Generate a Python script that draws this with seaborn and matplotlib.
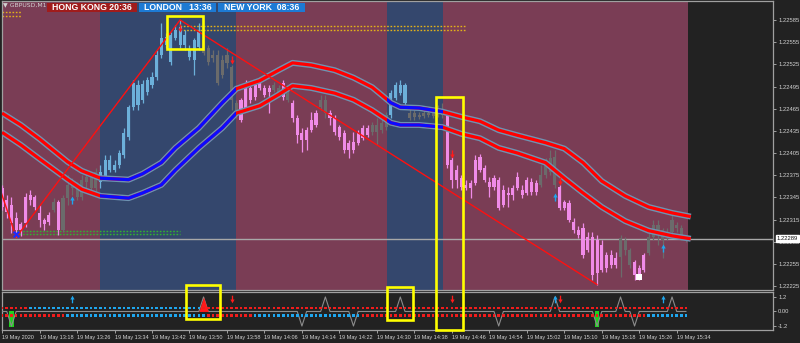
import numpy as np
import pandas as pd
import matplotlib
matplotlib.use("Agg")
import matplotlib.pyplot as plt
from matplotlib.patches import Rectangle
from matplotlib.path import Path
import seaborn as sns

# ---------------- data ----------------
opens = [1.22358, 1.22341, 1.22335, 1.22317, 1.22301, 1.22310, 1.22341, 1.22346, 1.22324, 1.22314,
         1.22312, 1.22328, 1.22339, 1.22301, 1.22344, 1.22358, 1.22362, 1.22346, 1.22366, 1.22373,
         1.22358, 1.22366, 1.22371, 1.22396, 1.22382, 1.22389, 1.22402, 1.22427, 1.22467, 1.22497,
         1.22477, 1.22488, 1.22497, 1.22508, 1.22538, 1.22551, 1.22565, 1.22561, 1.22551, 1.22565,
         1.22544, 1.22531, 1.22548, 1.22558, 1.22547, 1.22538, 1.22538, 1.22511, 1.22538, 1.22521,
         1.22473, 1.22477, 1.22463, 1.22493, 1.22497, 1.22493, 1.22493, 1.22493, 1.22490, 1.22488,
         1.22500, 1.22486, 1.22473, 1.22452, 1.22432, 1.22423, 1.22436, 1.22443, 1.22467, 1.22477,
         1.22459, 1.22452, 1.22440, 1.22432, 1.22419, 1.22409, 1.22419, 1.22425, 1.22429, 1.22433,
         1.22443, 1.22436, 1.22440, 1.22456, 1.22480, 1.22486, 1.22497, 1.22459, 1.22454, 1.22456,
         1.22459, 1.22456, 1.22459, 1.22456, 1.22463, 1.22456, 1.22396, 1.22369, 1.22371, 1.22362,
         1.22358, 1.22365, 1.22382, 1.22385, 1.22366, 1.22359, 1.22369, 1.22335, 1.22351, 1.22348,
         1.22358, 1.22355, 1.22351, 1.22366, 1.22352, 1.22362, 1.22375, 1.22379, 1.22400, 1.22359,
         1.22331, 1.22337, 1.22312, 1.22301, 1.22304, 1.22274, 1.22291, 1.22243, 1.22281, 1.22250,
         1.22267, 1.22254, 1.22264, 1.22287, 1.22274, 1.22258, 1.22240, 1.22247, 1.22270, 1.22291,
         1.22308, 1.22301, 1.22291, 1.22298, 1.22308, 1.22304, 1.22290]
closes = [1.22332, 1.22325, 1.22310, 1.22301, 1.22309, 1.22346, 1.22348, 1.22332, 1.22314, 1.22309,
          1.22321, 1.22339, 1.22301, 1.22344, 1.22362, 1.22365, 1.22346, 1.22369, 1.22373, 1.22358,
          1.22379, 1.22379, 1.22396, 1.22382, 1.22389, 1.22405, 1.22432, 1.22467, 1.22500, 1.22470,
          1.22498, 1.22504, 1.22508, 1.22538, 1.22561, 1.22562, 1.22528, 1.22571, 1.22575, 1.22551,
          1.22535, 1.22558, 1.22569, 1.22540, 1.22528, 1.22534, 1.22500, 1.22531, 1.22527, 1.22477,
          1.22463, 1.22450, 1.22500, 1.22477, 1.22481, 1.22501, 1.22484, 1.22488, 1.22497, 1.22493,
          1.22481, 1.22477, 1.22452, 1.22429, 1.22423, 1.22436, 1.22450, 1.22459, 1.22477, 1.22459,
          1.22452, 1.22434, 1.22427, 1.22409, 1.22409, 1.22420, 1.22432, 1.22439, 1.22439, 1.22443,
          1.22433, 1.22446, 1.22456, 1.22486, 1.22497, 1.22497, 1.22473, 1.22452, 1.22459, 1.22454,
          1.22455, 1.22459, 1.22455, 1.22461, 1.22456, 1.22389, 1.22369, 1.22382, 1.22359, 1.22358,
          1.22365, 1.22396, 1.22400, 1.22369, 1.22359, 1.22371, 1.22331, 1.22355, 1.22348, 1.22358,
          1.22373, 1.22348, 1.22369, 1.22352, 1.22365, 1.22375, 1.22392, 1.22398, 1.22362, 1.22331,
          1.22339, 1.22314, 1.22301, 1.22294, 1.22267, 1.22291, 1.22240, 1.22287, 1.22247, 1.22267,
          1.22254, 1.22263, 1.22290, 1.22274, 1.22254, 1.22240, 1.22250, 1.22267, 1.22291, 1.22308,
          1.22301, 1.22287, 1.22298, 1.22314, 1.22304, 1.22290, 1.22287]
highs = [1.22362, 1.22348, 1.22345, 1.22325, 1.22312, 1.22351, 1.22355, 1.22348, 1.22335, 1.22317,
         1.22325, 1.22344, 1.22341, 1.22348, 1.22375, 1.22371, 1.22366, 1.22375, 1.22379, 1.22378,
         1.22385, 1.22389, 1.22402, 1.22402, 1.22396, 1.22409, 1.22439, 1.22470, 1.22504, 1.22504,
         1.22504, 1.22508, 1.22515, 1.22544, 1.22581, 1.22567, 1.22569, 1.22578, 1.22585, 1.22571,
         1.22551, 1.22561, 1.22581, 1.22565, 1.22551, 1.22544, 1.22544, 1.22538, 1.22547, 1.22524,
         1.22477, 1.22479, 1.22504, 1.22497, 1.22500, 1.22508, 1.22497, 1.22497, 1.22501, 1.22497,
         1.22504, 1.22493, 1.22477, 1.22457, 1.22439, 1.22440, 1.22461, 1.22463, 1.22484, 1.22484,
         1.22463, 1.22457, 1.22443, 1.22436, 1.22423, 1.22433, 1.22436, 1.22443, 1.22443, 1.22447,
         1.22452, 1.22452, 1.22461, 1.22490, 1.22501, 1.22504, 1.22500, 1.22466, 1.22463, 1.22461,
         1.22463, 1.22463, 1.22463, 1.22470, 1.22473, 1.22461, 1.22400, 1.22389, 1.22375, 1.22369,
         1.22369, 1.22402, 1.22404, 1.22389, 1.22373, 1.22375, 1.22373, 1.22362, 1.22359, 1.22362,
         1.22379, 1.22362, 1.22373, 1.22371, 1.22369, 1.22389, 1.22398, 1.22409, 1.22409, 1.22362,
         1.22341, 1.22341, 1.22317, 1.22306, 1.22310, 1.22298, 1.22298, 1.22294, 1.22287, 1.22271,
         1.22274, 1.22271, 1.22294, 1.22291, 1.22277, 1.22260, 1.22254, 1.22270, 1.22297, 1.22314,
         1.22314, 1.22304, 1.22304, 1.22321, 1.22312, 1.22308, 1.22293]
lows = [1.22328, 1.22317, 1.22297, 1.22291, 1.22293, 1.22305, 1.22335, 1.22328, 1.22305, 1.22301,
        1.22308, 1.22325, 1.22294, 1.22298, 1.22335, 1.22348, 1.22341, 1.22341, 1.22355, 1.22352,
        1.22352, 1.22358, 1.22369, 1.22379, 1.22379, 1.22385, 1.22398, 1.22423, 1.22463, 1.22463,
        1.22473, 1.22484, 1.22493, 1.22504, 1.22534, 1.22547, 1.22524, 1.22558, 1.22547, 1.22544,
        1.22531, 1.22511, 1.22544, 1.22538, 1.22524, 1.22528, 1.22497, 1.22507, 1.22520, 1.22463,
        1.22452, 1.22447, 1.22460, 1.22473, 1.22477, 1.22490, 1.22481, 1.22459, 1.22488, 1.22484,
        1.22477, 1.22474, 1.22447, 1.22419, 1.22406, 1.22409, 1.22434, 1.22440, 1.22463, 1.22452,
        1.22443, 1.22429, 1.22423, 1.22405, 1.22398, 1.22405, 1.22416, 1.22423, 1.22427, 1.22429,
        1.22416, 1.22432, 1.22436, 1.22452, 1.22477, 1.22484, 1.22466, 1.22450, 1.22450, 1.22451,
        1.22452, 1.22454, 1.22452, 1.22454, 1.22452, 1.22385, 1.22358, 1.22358, 1.22355, 1.22355,
        1.22344, 1.22362, 1.22379, 1.22366, 1.22346, 1.22355, 1.22328, 1.22332, 1.22332, 1.22341,
        1.22355, 1.22344, 1.22348, 1.22348, 1.22348, 1.22359, 1.22371, 1.22375, 1.22358, 1.22328,
        1.22328, 1.22312, 1.22297, 1.22290, 1.22263, 1.22271, 1.22233, 1.22227, 1.22244, 1.22244,
        1.22250, 1.22250, 1.22237, 1.22267, 1.22250, 1.22233, 1.22233, 1.22244, 1.22267, 1.22287,
        1.22281, 1.22263, 1.22287, 1.22294, 1.22298, 1.22287, 1.22285]
# candle trend state: p = down (pink), b = up (light blue), g = neutral (gray)
trend = ("ppppppppppp" "g" "p" "gggggggg" "bbbbbbbbbbbbbbbbbbbbbb" "gggggggg" "ppppppp" "gg" "p" "g"
         "pppppp" "gg" "ppppppppp" "gggg" "bbbb" "gggggggg" "pppppppppppppppppppp" "gggg"
         "ppppppppppppp" "ggg" "ppp" "ggggggggg")

# envelope bands (read at selected bars)
band_bars = [0, 4, 8, 14, 17, 21, 27, 30, 34, 37, 42, 47, 50, 55, 59, 62, 66, 71, 75, 79, 83, 85,
             89, 94, 98, 102, 106, 110, 116, 120, 124, 128, 133, 138, 143, 147]
upper_band = [1.22459, 1.22443, 1.22424, 1.22393, 1.22381, 1.22371, 1.22369, 1.22377, 1.22392, 1.22412,
              1.22439, 1.22473, 1.22492, 1.22503, 1.22517, 1.22527, 1.22524, 1.22517, 1.22507, 1.22494,
              1.22473, 1.22467, 1.22466, 1.22461, 1.22454, 1.22448, 1.22436, 1.22429, 1.22419, 1.22411,
              1.22392, 1.22367, 1.22347, 1.22332, 1.22324, 1.22319]
lower_band = [1.22433, 1.22416, 1.22397, 1.22369, 1.22356, 1.22347, 1.22344, 1.22351, 1.22362, 1.22382,
              1.22412, 1.22439, 1.22459, 1.22469, 1.22484, 1.22496, 1.22493, 1.22486, 1.22477, 1.22463,
              1.22446, 1.22443, 1.22443, 1.22440, 1.22431, 1.22425, 1.22412, 1.22405, 1.22392, 1.22371,
              1.22351, 1.22332, 1.22313, 1.22300, 1.22293, 1.22289]

# session shading (bar edges) and kind
session_edges = [-1, 21, 50, 82.2, 94.1, 146.4]
session_kind = ["asia", "europe", "asia", "europe", "asia"]

# zigzag swing points
zz_bars = [-6, 3, 38, 127]
zz_prices = [1.22462, 1.22291, 1.22585, 1.22227]

# horizontal levels
yellow_levels = [1.22577, 1.22571]
yellow_span = (38, 99)
green_levels = [1.22300, 1.22295]
green_span = (3, 38)
corner_levels = [1.22596, 1.22591]
bid = 1.22289

# signal arrows on price
dn_arrow_bars = [38, 49, 96, 119]
dn_arrow_prices = [1.22574, 1.22531, 1.22404, 1.22367]
up_arrow_bars = [15, 118, 141]
up_arrow_prices = [1.22341, 1.22346, 1.22277]

# highlight boxes: (bar_left, bar_right, price_low, price_high)
boxes = [(35.26, 42.94, 1.225458, 1.225904),
         (92.65, 98.41, 1.221656, 1.224808),
         (39.32, 46.57, 1.221805, 1.222265),
         (82.20, 87.74, 1.221791, 1.222238)]

# sub-window indicator
osc_spike_bars = [2, 43, 64, 69, 75, 85, 106, 118, 127, 132, 135, 143]
osc_spike_vals = [-1.2, 1.2, -1.2, 1.2, -1.2, 1.2, -1.2, 1.2, -1.2, 1.2, -1.2, 1.2]
row1_segments = [(0, "r"), (6, "b"), (43, "r")]
row2_segments = [(0, "r"), (14, "b"), (44, "r"), (54, "b"), (77, "r"), (138, "b")]
green_marks = [2, 127]
sub_up_bars = [15, 118, 141]
sub_dn_bars = [49, 96, 119]

tick_bars = list(range(0, 145, 8))
tick_labels = ["19 May 2020", "19 May 13:18", "19 May 13:26", "19 May 13:34", "19 May 13:42",
               "19 May 13:50", "19 May 13:58", "19 May 14:06", "19 May 14:14", "19 May 14:22",
               "19 May 14:30", "19 May 14:38", "19 May 14:46", "19 May 14:54", "19 May 15:02",
               "19 May 15:10", "19 May 15:18", "19 May 15:26", "19 May 15:34"]
price_ticks = [1.22585, 1.22555, 1.22525, 1.22495, 1.22465, 1.22435, 1.22405, 1.22375,
               1.22345, 1.22315, 1.22285, 1.22255, 1.22225]

# ---------------- style ----------------
BG = "#222222"
sns.set_theme(style="dark", rc={"axes.facecolor": BG, "figure.facecolor": BG})
plt.rcParams["font.family"] = ["Liberation Sans", "DejaVu Sans"]

SESSION_COL = {"asia": "#7a3d55", "europe": "#34476d"}
CANDLE_COL = {"p": "#f08be8", "b": "#6cb0da", "g": "#6b6b6b"}
ROW_COL = {"r": "#f01c1c", "b": "#1ea6ee"}
SPINE = "#a0a0a0"
TXT = "#d2d2d2"
TICK_FS = 4.2

n = len(opens)
df = pd.DataFrame({"bar": np.arange(n), "open": opens, "high": highs, "low": lows,
                   "close": closes, "trend": list(trend)})

fig = plt.figure(figsize=(8, 3.43), dpi=100, facecolor=BG)
ax = fig.add_axes([0.0025, 0.15452, 0.96375, 0.84256])
axs = fig.add_axes([0.0025, 0.0379, 0.96375, 0.11079], sharex=ax)
ax.set_zorder(3)
axs.set_zorder(1)
for a in (ax, axs):
    a.set_facecolor(BG)
    a.grid(False)
    for s in a.spines.values():
        s.set_color(SPINE)
        s.set_linewidth(0.9)
        s.set_visible(True)

xmin, xmax = -0.02, 164.55
ax.set_xlim(xmin, xmax)
ax.set_ylim(1.222197, 1.226107)
axs.set_ylim(-1.53, 1.61)

# sessions
for (a0, a1), kind in zip(zip(session_edges[:-1], session_edges[1:]), session_kind):
    ax.axvspan(a0, a1, color=SESSION_COL[kind], lw=0, zorder=0)

# bid line
ax.axhline(bid, color="#a8a8a8", lw=1.0, zorder=2)

# levels
ax.hlines(green_levels, *green_span, colors="#2fb52f", linestyles=(0, (1.2, 1.2)), lw=1.0, zorder=2)
ax.hlines(yellow_levels, *yellow_span, colors="#e3b21a", linestyles=(0, (1.2, 1.2)), lw=1.0, zorder=2)
ax.hlines(corner_levels, 0, 4, colors="#e3b21a", linestyles=(0, (1.2, 1.2)), lw=1.0, zorder=2)

# candles
cols = [CANDLE_COL[c] for c in df["trend"]]
ax.vlines(df["bar"], df["low"], df["high"], colors=cols, lw=0.9, zorder=3)
body_lo = np.minimum(df["open"], df["close"])
body_h = np.maximum((df["close"] - df["open"]).abs(), 0.000015)
ax.bar(df["bar"], body_h, bottom=body_lo, width=0.66, color=cols, lw=0, zorder=4)

# envelope bands
bands = pd.DataFrame({"bar": band_bars, "upper": upper_band, "lower": lower_band})
navy_spans = [(a0, a1) for (a0, a1), k in zip(zip(session_edges[:-1], session_edges[1:]), session_kind)
              if k == "europe"]
for col in ("upper", "lower"):
    sns.lineplot(data=bands, x="bar", y=col, ax=ax, color="#6e93b2", linewidth=4.3, zorder=5,
                 legend=False, solid_capstyle="butt")
    sns.lineplot(data=bands, x="bar", y=col, ax=ax, color="#ff0000", linewidth=2.3, zorder=6,
                 legend=False, solid_capstyle="butt")
    for a0, a1 in navy_spans:
        ln = ax.plot(bands["bar"], bands[col], color="#0b0bff", lw=2.3, zorder=7,
                     solid_capstyle="butt")[0]
        clip = Rectangle((a0, 1.2), a1 - a0, 0.05, transform=ax.transData)
        ln.set_clip_path(clip)

# zigzag
ax.plot(zz_bars, zz_prices, color="#ff1010", lw=1.0, zorder=8)


def arrow_marker(up=True):
    v = np.array([(-0.17, -1.0), (0.17, -1.0), (0.17, 0.0), (0.55, 0.0), (0.0, 1.0),
                  (-0.55, 0.0), (-0.17, 0.0), (-0.17, -1.0)])
    if not up:
        v[:, 1] *= -1
    codes = [Path.MOVETO] + [Path.LINETO] * 6 + [Path.CLOSEPOLY]
    return Path(v, codes)


UP, DN = arrow_marker(True), arrow_marker(False)
ax.scatter(dn_arrow_bars, dn_arrow_prices, marker=DN, s=34, color="#ff1a1a", lw=0, zorder=9)
ax.scatter(up_arrow_bars, up_arrow_prices, marker=UP, s=34, color="#1ea6ee", lw=0, zorder=9)
ax.scatter([3], [1.22296], marker="x", s=16, color="#1a2cff", lw=1.6, zorder=9)
ax.scatter([136], [1.22237], marker="s", s=14, color="#ffffff", lw=0, zorder=9)

# highlight boxes
for b0, b1, p0, p1 in boxes:
    ax.add_patch(Rectangle((b0, p0), b1 - b0, p1 - p0, fill=False, edgecolor="#ffff00",
                           lw=1.9, zorder=10, clip_on=False))

# axis ticks (price)
ax.set_xlabel("")
ax.set_ylabel("")
ax.yaxis.tick_right()
ax.set_yticks(price_ticks)
ax.set_yticklabels([f"{p:.5f}" for p in price_ticks])
ax.tick_params(axis="y", which="both", right=True, left=False, length=2.5, width=0.7,
               color=SPINE, labelcolor=TXT, labelsize=TICK_FS, pad=1.2)
ax.tick_params(axis="x", which="both", bottom=False, labelbottom=False, top=False)

# bid label
ax.annotate(f"{bid:.5f}", xy=(1.0, bid), xycoords=("axes fraction", "data"),
            xytext=(2.6, 0), textcoords="offset points", ha="left", va="center",
            fontsize=TICK_FS, color="#111111", zorder=12, annotation_clip=False,
            bbox=dict(boxstyle="square,pad=0.15", facecolor="#ffffff", edgecolor="#ffffff"))

# header
ax.text(0.0013, 0.987, "\u25bc GBPUSD,M1", transform=ax.transAxes, fontsize=4.4, color=TXT,
        ha="left", va="center", family=["DejaVu Sans"], zorder=12)
header = [("HONG KONG 20:36", 0.0584, 0.1751, "#a01c1c"),
          ("LONDON   13:36", 0.1777, 0.2776, "#1d7ad4"),
          ("NEW YORK  08:36", 0.2805, 0.3930, "#1d7ad4")]
for txt, x0, x1, fc in header:
    ax.add_patch(Rectangle((x0, 0.9620), x1 - x0, 0.0315, transform=ax.transAxes, facecolor=fc,
                           edgecolor="none", zorder=11, clip_on=False))
    ax.text((x0 + x1) / 2, 0.978, txt, transform=ax.transAxes, fontsize=6.3, color="white",
            fontweight="bold", ha="center", va="center", family=["Liberation Sans", "DejaVu Sans"],
            zorder=12)

# ---------------- sub window ----------------
bars = np.arange(n)
osc = np.zeros(n)
osc[osc_spike_bars] = osc_spike_vals
sub = pd.DataFrame({"bar": bars, "osc": osc})


def expand(segments):
    out = []
    for i, (start, c) in enumerate(segments):
        end = segments[i + 1][0] if i + 1 < len(segments) else n
        out += [c] * (end - start)
    return out


row1 = expand(row1_segments)
row2 = expand(row2_segments)

axs.bar(green_marks, -1.35, bottom=0.05, width=0.95, color="#1ed21e", lw=0, zorder=2)
sns.lineplot(data=sub, x="bar", y="osc", ax=axs, color="#8c8c8c", linewidth=0.8, zorder=3, legend=False)
red_fill = sub[(sub.bar >= 42) & (sub.bar <= 44)]
axs.fill_between(red_fill["bar"], 0, red_fill["osc"], color="#ff1a1a", lw=0, zorder=3)
axs.scatter(bars, np.full(n, 0.29), c=[ROW_COL[c] for c in row1], marker="s", s=3.6, lw=0, zorder=4)
axs.scatter(bars, np.full(n, -0.33), c=[ROW_COL[c] for c in row2], marker="s", s=3.6, lw=0, zorder=4)
axs.scatter(sub_up_bars, np.full(len(sub_up_bars), 1.0), marker=UP, s=30, color="#1ea6ee", lw=0, zorder=5)
axs.scatter(sub_dn_bars, np.full(len(sub_dn_bars), 1.0), marker=DN, s=30, color="#ff1a1a", lw=0, zorder=5)

axs.set_xlabel("")
axs.set_ylabel("")
axs.yaxis.tick_right()
axs.set_yticks([1.2, 0.0, -1.2])
axs.set_yticklabels(["1.2", "0.00", "-1.2"])
axs.tick_params(axis="y", right=True, left=False, length=2.5, width=0.7, color=SPINE,
                labelcolor=TXT, labelsize=TICK_FS, pad=1.2)
axs.set_xticks(tick_bars)
axs.set_xticklabels(tick_labels)
axs.tick_params(axis="x", bottom=True, length=2.0, width=0.7, color=SPINE, labelcolor=TXT,
                labelsize=4.0, pad=1.5, labelbottom=True)
for lbl in axs.get_xticklabels():
    lbl.set_ha("left")
axs.set_xlim(xmin, xmax)

fig.savefig("out.png", dpi=100, facecolor=BG)
